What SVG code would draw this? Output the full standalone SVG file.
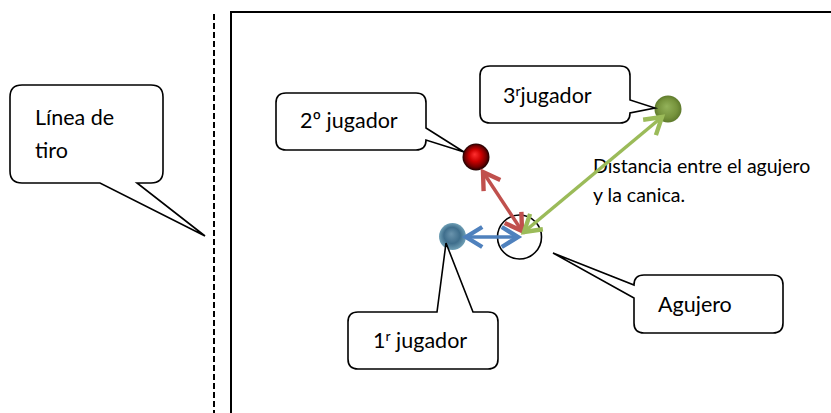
<svg xmlns="http://www.w3.org/2000/svg" width="831" height="413" viewBox="0 0 831 413">
<style>
  .bubble { fill: #ffffff; stroke: #000000; stroke-width: 1.6; stroke-linejoin: miter; }
  .lbl { font-family: Lato, "Open Sans", "Liberation Sans", sans-serif; font-size: 21.5px; fill: #000000; }
  .note { font-family: Lato, "Open Sans", "Liberation Sans", sans-serif; font-size: 19.5px; fill: #000000; }
  .arrow { fill: none; stroke-width: 3.5; }
</style>
<defs>
  <radialGradient id="gRed" cx="0.5" cy="0.5" r="0.5" fx="0.45" fy="0.4">
    <stop offset="0" stop-color="#ff3030"/>
    <stop offset="0.45" stop-color="#cc0000"/>
    <stop offset="0.8" stop-color="#700000"/>
    <stop offset="1" stop-color="#1a0000"/>
  </radialGradient>
  <radialGradient id="gGreen" cx="0.5" cy="0.5" r="0.5" fx="0.45" fy="0.4">
    <stop offset="0" stop-color="#93b25a"/>
    <stop offset="0.7" stop-color="#76933c"/>
    <stop offset="1" stop-color="#5e7a2c"/>
  </radialGradient>
  <radialGradient id="gBlue" cx="0.5" cy="0.5" r="0.5" fx="0.45" fy="0.4">
    <stop offset="0" stop-color="#6a94ad"/>
    <stop offset="0.6" stop-color="#3f6e8c"/>
    <stop offset="1" stop-color="#6f9fb5"/>
  </radialGradient>
  <marker id="mRed" markerUnits="userSpaceOnUse" markerWidth="30" markerHeight="30" refX="0" refY="0" viewBox="-18 -12 22 24" orient="auto-start-reverse" overflow="visible">
    <path d="M-13,-8 L0,0 L-13,8" fill="none" stroke="#c0504d" stroke-width="3.5"/>
  </marker>
  <marker id="mGreen" markerUnits="userSpaceOnUse" markerWidth="30" markerHeight="30" refX="0" refY="0" viewBox="-18 -12 22 24" orient="auto-start-reverse" overflow="visible">
    <path d="M-13,-8 L0,0 L-13,8" fill="none" stroke="#9bbb59" stroke-width="3.5"/>
  </marker>
  <marker id="mBlue" markerUnits="userSpaceOnUse" markerWidth="30" markerHeight="30" refX="0" refY="0" viewBox="-18 -12 22 24" orient="auto-start-reverse" overflow="visible">
    <path d="M-13,-8 L0,0 L-13,8" fill="none" stroke="#4f81bd" stroke-width="3.5"/>
  </marker>
</defs>

<g id="field">
  <path d="M231,413 V12 H831" fill="none" stroke="#000000" stroke-width="2"/>
  <line x1="214" y1="14" x2="214" y2="413" stroke="#000000" stroke-width="2" stroke-dasharray="6 3"/>
</g>

<g id="linea-de-tiro">
  <path class="bubble" d="M22,85 H151 Q163,85 163,97 V171 Q163,183 151,183 H137 L205,236 L100,183 H22 Q10,183 10,171 V97 Q10,85 22,85 Z"/>
  <text class="lbl" x="35" y="125" font-size="23.5">Línea de</text>
  <text class="lbl" x="35" y="158" font-size="23.5">tiro</text>
</g>

<g id="agujero">
  <circle cx="519.5" cy="237" r="22" fill="none" stroke="#000000" stroke-width="1.6"/>
</g>

<g id="canica-2">
  <circle cx="476" cy="157" r="13.5" fill="url(#gRed)"/>
</g>
<g id="canica-3">
  <circle cx="668" cy="109" r="13.5" fill="url(#gGreen)"/>
</g>
<g id="canica-1">
  <circle cx="452.5" cy="236.5" r="13.5" fill="url(#gBlue)"/>
</g>

<g id="jugador-2">
  <path class="bubble" d="M286,93 H416 Q426,93 426,103 V128 L464,152 L426,140 Q426,150 416,150 H286 Q276,150 276,140 V103 Q276,93 286,93 Z"/>
  <text class="lbl" x="300" y="128">2º jugador</text>
</g>

<g id="jugador-3">
  <path class="bubble" d="M490,66 H620 Q630,66 630,76 V100 L655,108 L630,113 Q630,123 620,123 H490 Q480,123 480,113 V76 Q480,66 490,66 Z"/>
  <text class="lbl" x="503" y="103">3<tspan font-size="14" dy="-7">r</tspan><tspan dy="7">jugador</tspan></text>
</g>

<g id="jugador-1">
  <path class="bubble" d="M358,312 H437 L446,243 L473,312 H488 Q498,312 498,322 V359 Q498,369 488,369 H358 Q348,369 348,359 V322 Q348,312 358,312 Z"/>
  <text class="lbl" x="373" y="348">1<tspan font-size="14" dy="-7">r</tspan><tspan dy="7"> jugador</tspan></text>
</g>

<g id="agujero-label">
  <path class="bubble" d="M644,275 H773 Q783,275 783,285 V323 Q783,333 773,333 H644 Q634,333 634,323 V298 L553,253 L634,285 Q634,275 644,275 Z"/>
  <text class="lbl" x="658" y="312">Agujero</text>
</g>

<g id="distancia">
  <text class="note" x="593" y="173">Distancia entre el agujero</text>
  <text class="note" x="593" y="202">y la canica.</text>
</g>

<g id="connectors">
  <line class="arrow" stroke="#c0504d" x1="483" y1="172" x2="522" y2="231" marker-start="url(#mRed)" marker-end="url(#mRed)"/>
  <line class="arrow" stroke="#9bbb59" x1="662" y1="117" x2="524" y2="232" marker-start="url(#mGreen)" marker-end="url(#mGreen)"/>
  <line class="arrow" stroke="#4f81bd" x1="466" y1="237" x2="518" y2="237" marker-start="url(#mBlue)" marker-end="url(#mBlue)"/>
</g>
</svg>
